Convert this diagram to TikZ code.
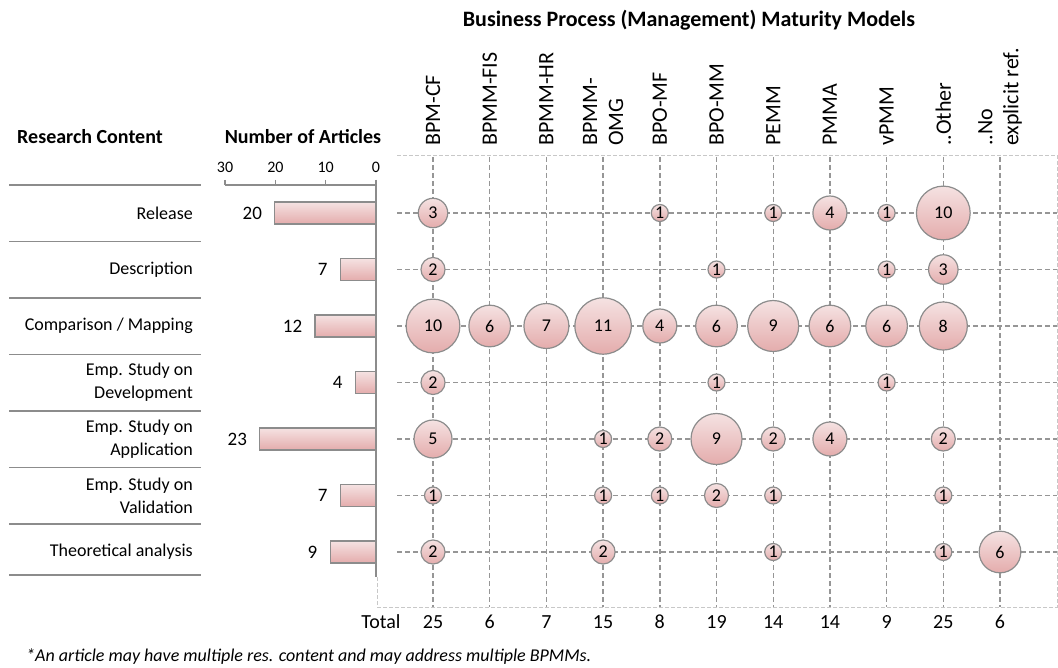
\documentclass[tikz,border=0pt]{standalone}
\usepackage{fontspec}
\setmainfont{Carlito}
\usetikzlibrary{positioning}
\definecolor{gridgray}{RGB}{150,150,150}
\definecolor{boxgray}{RGB}{200,200,200}
\definecolor{edgegray}{RGB}{140,140,140}
\definecolor{pinktop}{RGB}{245,226,226}
\definecolor{pinkbot}{RGB}{228,172,172}
\begin{document}
\begin{tikzpicture}[x=1pt, y=-1pt]
    \tikzstyle{txt}=[inner sep=0pt, font=\fontsize{18}{23}\selectfont]
    \tikzstyle{heading}=[inner sep=0pt, font=\fontsize{20}{24}\selectfont\bfseries]
    \tikzstyle{model}=[inner sep=0pt, rotate=90, anchor=west, align=left, font=\fontsize{22}{26}\selectfont]
    \tikzstyle{bubble}=[circle, draw=edgegray, line width=1.2pt, top color=pinktop, bottom color=pinkbot, inner sep=0pt, font=\fontsize{18}{22}\selectfont]
    \tikzstyle{bar}=[rectangle, draw=edgegray, line width=1.2pt, top color=pinktop, bottom color=pinkbot, minimum height=22pt, inner sep=0pt, anchor=east]
    \tikzstyle{grid-line}=[draw=gridgray, line width=1.4pt, dash pattern=on 5pt off 3pt]
    \tikzstyle{box-line}=[draw=boxgray, line width=0.9pt, dash pattern=on 4pt off 2pt]
    \tikzstyle{sep-rule}=[draw=edgegray, line width=1.6pt]
    \tikzstyle{axis-line}=[draw=edgegray, line width=1.4pt]

    \useasboundingbox (0,0) rectangle (1058,668);

    \node[heading, font=\fontsize{22}{26}\selectfont\bfseries] (title) at (689,20) {Business Process (Management) Maturity Models};
    \node[heading] (content-head) at (90,137) {Research Content};
    \node[heading] (articles-head) at (303,137) {Number of Articles};

    % maturity models
    \foreach \c/\m in {0/BPM-CF, 1/BPMM-FIS, 2/BPMM-HR, 3/{BPMM-\\OMG}, 4/BPO-MF, 5/BPO-MM, 6/PEMM, 7/PMMA, 8/vPMM, 9/{..Other}, 10/{..No\\explicit ref.}}
        \node[model] (model-\c) at (433+56.7*\c,146) {\m};

    \foreach \c in {0,...,10}
        \draw[grid-line] (433+56.7*\c,157) -- (433+56.7*\c,607);
    \foreach \r in {0,...,6}
        \draw[grid-line] (397,213+56.5*\r) -- (1057,213+56.5*\r);
    \draw[box-line] (397,155) -- (1057,155) -- (1057,607) -- (377,607) -- (377,577);

    \foreach \r/\c/\v in {0/0/3, 0/4/1, 0/6/1, 0/7/4, 0/8/1, 0/9/10,
                          1/0/2, 1/5/1, 1/8/1, 1/9/3,
                          2/0/10, 2/1/6, 2/2/7, 2/3/11, 2/4/4, 2/5/6, 2/6/9, 2/7/6, 2/8/6, 2/9/8,
                          3/0/2, 3/5/1, 3/8/1,
                          4/0/5, 4/3/1, 4/4/2, 4/5/9, 4/6/2, 4/7/4, 4/9/2,
                          5/0/1, 5/3/1, 5/4/1, 5/5/2, 5/6/1, 5/9/1,
                          6/0/2, 6/3/2, 6/6/1, 6/9/1, 6/10/6}
        \node[bubble, minimum size={17*sqrt(\v)}] (bub-\r-\c) at (433+56.7*\c,213+56.5*\r) {\v};

    % research content
    \foreach \r/\t in {0/Release, 1/Description, 2/{Comparison / Mapping}, 3/{Emp. Study on\\Development}, 4/{Emp. Study on\\Application}, 5/{Emp. Study on\\Validation}, 6/{Theoretical analysis}}
        \node[txt, anchor=east, align=right] (content-\r) at (193,213+56.5*\r) {\t};
    \foreach \s in {185,241.5,298,354.5,411,467.5,524,575}
        \draw[sep-rule] (9,\s) -- (201,\s);

    \foreach \r/\n in {0/20, 1/7, 2/12, 3/4, 4/23, 5/7, 6/9} {
        \node[bar, minimum width={5.03*\n}] (bar-\r) at (376,213+56.5*\r) {};
        \node[txt, anchor=east, font=\fontsize{19}{23}\selectfont] (count-\r) at ([xshift=-12pt]bar-\r.west) {\n};
    }
    \draw[axis-line] (225,185) -- (376,185) (376,180) -- (376,577);
    \foreach \t in {0,10,20,30} {
        \draw[axis-line] (376-5.03*\t,180) -- (376-5.03*\t,185);
        \node[txt, font=\fontsize{16}{20}\selectfont] (tick-\t) at (376-5.03*\t,167) {\t};
    }

    % totals
    \node[txt, font=\fontsize{20}{24}\selectfont] (total-head) at (381,622) {Total};
    \foreach \c/\n in {0/25, 1/6, 2/7, 3/15, 4/8, 5/19, 6/14, 7/14, 8/9, 9/25, 10/6}
        \node[txt, font=\fontsize{20}{24}\selectfont] (total-\c) at (433+56.7*\c,622) {\n};

    \node[txt, anchor=west, font=\fontsize{18}{22}\selectfont\itshape] (note) at (26,657) {*An article may have multiple res. content and may address multiple BPMMs.};
\end{tikzpicture}
\end{document}
